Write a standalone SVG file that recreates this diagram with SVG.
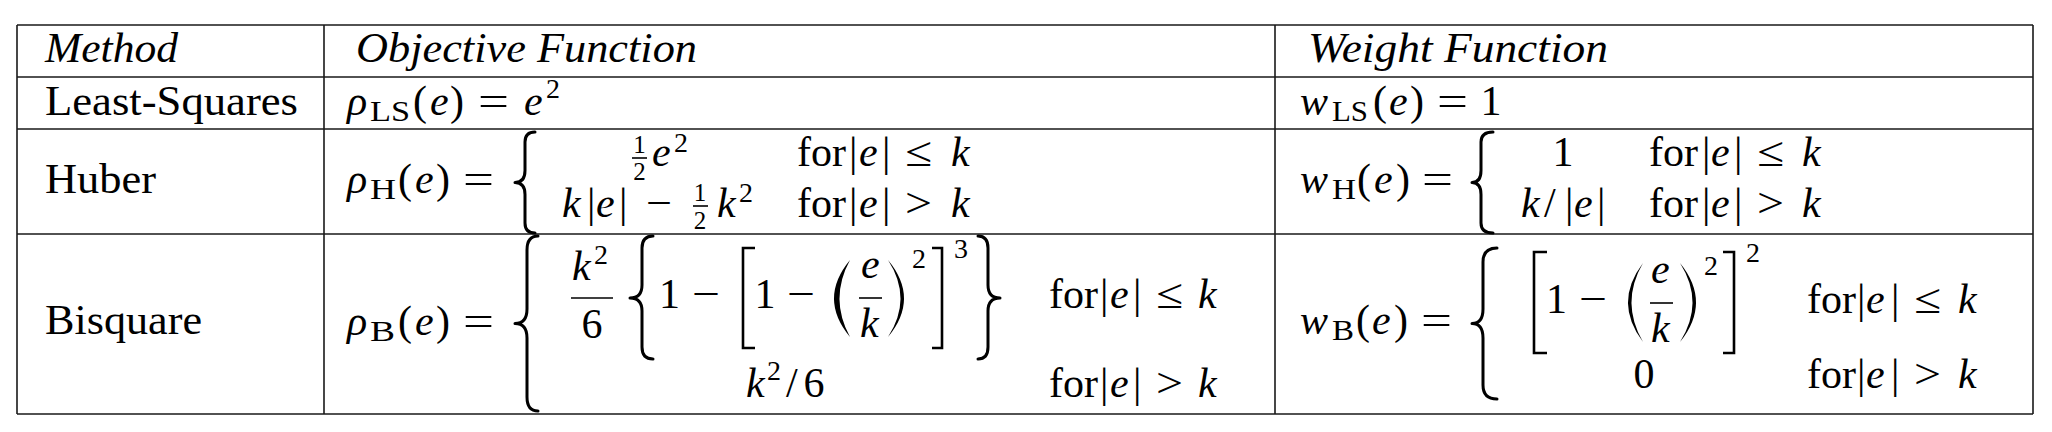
<svg xmlns="http://www.w3.org/2000/svg" width="2052" height="432" viewBox="0 0 2052 432">
<style>
.t{font-family:"Liberation Serif","Times New Roman",serif;font-size:42px;fill:#000}
.i{font-style:italic}
.sb{font-size:30px}
.sp{font-size:28px}
.fr{font-size:25px}
.m{text-anchor:middle}
.ln{stroke:#1a1a1a;stroke-width:1.6;fill:none}
.br{stroke:#000;stroke-width:3;fill:none;stroke-linecap:round;stroke-linejoin:round}
.bk{stroke:#000;stroke-width:2.6;fill:none}
.bar{stroke:#000;stroke-width:1.6}
.pa{fill:#000}
</style>
<rect width="2052" height="432" fill="#fff"/>
<g id="grid">
<path class="ln" d="M17,25H2033M17,77H2033M17,129H2033M17,234H2033M17,414H2033M17,25V414M324,25V414M1275,25V414M2033,25V414"/>
</g>
<g id="header">
<text class="t i" x="45" y="62" textLength="133" lengthAdjust="spacingAndGlyphs">Method</text>
<text class="t i" x="356" y="62" textLength="341" lengthAdjust="spacingAndGlyphs">Objective Function</text>
<text class="t i" x="1308" y="62" textLength="300" lengthAdjust="spacingAndGlyphs">Weight Function</text>
</g>
<g id="methods">
<text class="t" x="45" y="115" textLength="253" lengthAdjust="spacingAndGlyphs">Least-Squares</text>
<text class="t" x="45" y="193" textLength="111" lengthAdjust="spacingAndGlyphs">Huber</text>
<text class="t" x="45" y="334" textLength="157" lengthAdjust="spacingAndGlyphs">Bisquare</text>
</g>
<g id="obj-ls">
<text class="t i" x="347" y="115">ρ</text>
<text class="t sb" x="370" y="121" textLength="40" lengthAdjust="spacingAndGlyphs">LS</text>
<text class="t" x="413" y="115">(</text>
<text class="t i" x="430" y="115">e</text>
<text class="t" x="450" y="115">)</text>
<text class="t" x="478" y="115" textLength="31" lengthAdjust="spacingAndGlyphs">=</text>
<text class="t i" x="524" y="115">e</text>
<text class="t sp" x="546" y="98">2</text>
</g>
<g id="obj-huber">
<text class="t i" x="347" y="193">ρ</text>
<text class="t sb" x="370" y="199" textLength="26" lengthAdjust="spacingAndGlyphs">H</text>
<text class="t" x="398" y="193">(</text>
<text class="t i" x="415" y="193">e</text>
<text class="t" x="436" y="193">)</text>
<text class="t" x="463" y="193" textLength="31" lengthAdjust="spacingAndGlyphs">=</text>
<path class="br" d="M535,132 Q525,132 525,142 L525,170.5 Q525,182.5 515,182.5 Q525,182.5 525,194.5 L525,223 Q525,233 535,233"/>
<text class="t fr m" x="639.5" y="153">1</text>
<line class="bar" x1="632" y1="158" x2="647" y2="158"/>
<text class="t fr m" x="639.5" y="180">2</text>
<text class="t i" x="652" y="166">e</text>
<text class="t sp" x="674" y="152">2</text>
<text class="t i" x="562" y="217">k</text>
<text class="t" x="587" y="217">|</text>
<text class="t i" x="596" y="217">e</text>
<text class="t" x="619" y="217">|</text>
<text class="t" x="646" y="217" textLength="26" lengthAdjust="spacingAndGlyphs">−</text>
<text class="t fr m" x="700" y="201">1</text>
<line class="bar" x1="693" y1="206" x2="708" y2="206"/>
<text class="t fr m" x="700" y="229">2</text>
<text class="t i" x="717" y="217">k</text>
<text class="t sp" x="739" y="202">2</text>
<text class="t" x="797" y="166">for</text>
<text class="t" x="849" y="166">|</text>
<text class="t i" x="859" y="166">e</text>
<text class="t" x="882" y="166">|</text>
<text class="t" x="905" y="166" textLength="27" lengthAdjust="spacingAndGlyphs">≤</text>
<text class="t i" x="951" y="166">k</text>
<text class="t" x="797" y="217">for</text>
<text class="t" x="849" y="217">|</text>
<text class="t i" x="859" y="217">e</text>
<text class="t" x="882" y="217">|</text>
<text class="t" x="905" y="217" textLength="27" lengthAdjust="spacingAndGlyphs">&gt;</text>
<text class="t i" x="951" y="217">k</text>
</g>
<g id="obj-bisquare">
<text class="t i" x="347" y="335">ρ</text>
<text class="t sb" x="370" y="341" textLength="25" lengthAdjust="spacingAndGlyphs">B</text>
<text class="t" x="398" y="335">(</text>
<text class="t i" x="415" y="335">e</text>
<text class="t" x="436" y="335">)</text>
<text class="t" x="463" y="335" textLength="31" lengthAdjust="spacingAndGlyphs">=</text>
<path class="br" d="M538,236 Q527,236 527,250 L527,309 Q527,323.5 515,323.5 Q527,323.5 527,338 L527,397 Q527,411 538,411"/>
<text class="t i" x="572" y="280">k</text>
<text class="t sp" x="594" y="264">2</text>
<line class="bar" x1="571" y1="298" x2="613" y2="298"/>
<text class="t m" x="592" y="338">6</text>
<path class="br" d="M653,236 Q642,236 642,248 L642,285 Q642,298 630,298 Q642,298 642,311 L642,347 Q642,359 653,359"/>
<text class="t m" x="669.5" y="308">1</text>
<text class="t" x="692" y="308" textLength="28" lengthAdjust="spacingAndGlyphs">−</text>
<path class="bk" d="M755,248H743V348H755"/>
<text class="t m" x="765" y="308">1</text>
<text class="t" x="787" y="308" textLength="28" lengthAdjust="spacingAndGlyphs">−</text>
<path class="pa" d="M850,260 Q818,298.5 850,337 Q829,298.5 850,260Z"/>
<text class="t i" x="861" y="278">e</text>
<line class="bar" x1="859" y1="298" x2="882" y2="298"/>
<text class="t i" x="860" y="337">k</text>
<path class="pa" d="M888,260 Q920,298.5 888,337 Q913,298.5 888,260Z"/>
<text class="t sp" x="912" y="268">2</text>
<path class="bk" d="M932,248H942V348H932"/>
<text class="t sp" x="954" y="258">3</text>
<path class="br" d="M978,236 Q988,236 988,248 L988,285 Q988,298 1000,298 Q988,298 988,311 L988,347 Q988,359 978,359"/>
<text class="t" x="1049" y="308">for</text>
<text class="t" x="1100" y="308">|</text>
<text class="t i" x="1110" y="308">e</text>
<text class="t" x="1133" y="308">|</text>
<text class="t" x="1156" y="308" textLength="27" lengthAdjust="spacingAndGlyphs">≤</text>
<text class="t i" x="1198" y="308">k</text>
<text class="t i" x="746" y="397">k</text>
<text class="t sp" x="767" y="380">2</text>
<text class="t" x="786" y="397">/</text>
<text class="t m" x="814" y="397">6</text>
<text class="t" x="1049" y="397">for</text>
<text class="t" x="1100" y="397">|</text>
<text class="t i" x="1110" y="397">e</text>
<text class="t" x="1133" y="397">|</text>
<text class="t" x="1156" y="397" textLength="27" lengthAdjust="spacingAndGlyphs">&gt;</text>
<text class="t i" x="1198" y="397">k</text>
</g>
<g id="w-ls">
<text class="t i" x="1300" y="115">w</text>
<text class="t sb" x="1332" y="121" textLength="36" lengthAdjust="spacingAndGlyphs">LS</text>
<text class="t" x="1373" y="115">(</text>
<text class="t i" x="1389" y="115">e</text>
<text class="t" x="1410" y="115">)</text>
<text class="t" x="1437" y="115" textLength="31" lengthAdjust="spacingAndGlyphs">=</text>
<text class="t m" x="1491" y="115">1</text>
</g>
<g id="w-huber">
<text class="t i" x="1300" y="193">w</text>
<text class="t sb" x="1332" y="199" textLength="24" lengthAdjust="spacingAndGlyphs">H</text>
<text class="t" x="1357" y="193">(</text>
<text class="t i" x="1374" y="193">e</text>
<text class="t" x="1396" y="193">)</text>
<text class="t" x="1422" y="193" textLength="31" lengthAdjust="spacingAndGlyphs">=</text>
<path class="br" d="M1493,132 Q1481,132 1481,142 L1481,170.5 Q1481,182.5 1472,182.5 Q1481,182.5 1481,194.5 L1481,223 Q1481,233 1493,233"/>
<text class="t m" x="1563" y="166">1</text>
<text class="t i" x="1521" y="217">k</text>
<text class="t" x="1544" y="217">/</text>
<text class="t" x="1565" y="217">|</text>
<text class="t i" x="1574" y="217">e</text>
<text class="t" x="1597" y="217">|</text>
<text class="t" x="1649" y="166">for</text>
<text class="t" x="1702" y="166">|</text>
<text class="t i" x="1711" y="166">e</text>
<text class="t" x="1734" y="166">|</text>
<text class="t" x="1757" y="166" textLength="27" lengthAdjust="spacingAndGlyphs">≤</text>
<text class="t i" x="1802" y="166">k</text>
<text class="t" x="1649" y="217">for</text>
<text class="t" x="1702" y="217">|</text>
<text class="t i" x="1711" y="217">e</text>
<text class="t" x="1734" y="217">|</text>
<text class="t" x="1757" y="217" textLength="27" lengthAdjust="spacingAndGlyphs">&gt;</text>
<text class="t i" x="1802" y="217">k</text>
</g>
<g id="w-bisquare">
<text class="t i" x="1300" y="334">w</text>
<text class="t sb" x="1332" y="340" textLength="22" lengthAdjust="spacingAndGlyphs">B</text>
<text class="t" x="1356" y="334">(</text>
<text class="t i" x="1372" y="334">e</text>
<text class="t" x="1394" y="334">)</text>
<text class="t" x="1421" y="334" textLength="31" lengthAdjust="spacingAndGlyphs">=</text>
<path class="br" d="M1497,248 Q1483,248 1483,262 L1483,309 Q1483,323.5 1472,323.5 Q1483,323.5 1483,338 L1483,385 Q1483,399 1497,399"/>
<path class="bk" d="M1547,252H1534V353H1547"/>
<text class="t m" x="1556.5" y="313">1</text>
<text class="t" x="1579" y="313" textLength="28" lengthAdjust="spacingAndGlyphs">−</text>
<path class="pa" d="M1643,263 Q1613,302.5 1643,342 Q1620,302.5 1643,263Z"/>
<text class="t i" x="1651" y="283">e</text>
<line class="bar" x1="1650" y1="303" x2="1673" y2="303"/>
<text class="t i" x="1651" y="342">k</text>
<path class="pa" d="M1680,263 Q1712,302.5 1680,342 Q1705,302.5 1680,263Z"/>
<text class="t sp" x="1704" y="275">2</text>
<path class="bk" d="M1723,252H1734V353H1723"/>
<text class="t sp" x="1746" y="262">2</text>
<text class="t" x="1807" y="313">for</text>
<text class="t" x="1857" y="313">|</text>
<text class="t i" x="1866" y="313">e</text>
<text class="t" x="1891" y="313">|</text>
<text class="t" x="1914" y="313" textLength="27" lengthAdjust="spacingAndGlyphs">≤</text>
<text class="t i" x="1958" y="313">k</text>
<text class="t m" x="1644" y="388">0</text>
<text class="t" x="1807" y="388">for</text>
<text class="t" x="1857" y="388">|</text>
<text class="t i" x="1866" y="388">e</text>
<text class="t" x="1891" y="388">|</text>
<text class="t" x="1914" y="388" textLength="27" lengthAdjust="spacingAndGlyphs">&gt;</text>
<text class="t i" x="1958" y="388">k</text>
</g>
</svg>
